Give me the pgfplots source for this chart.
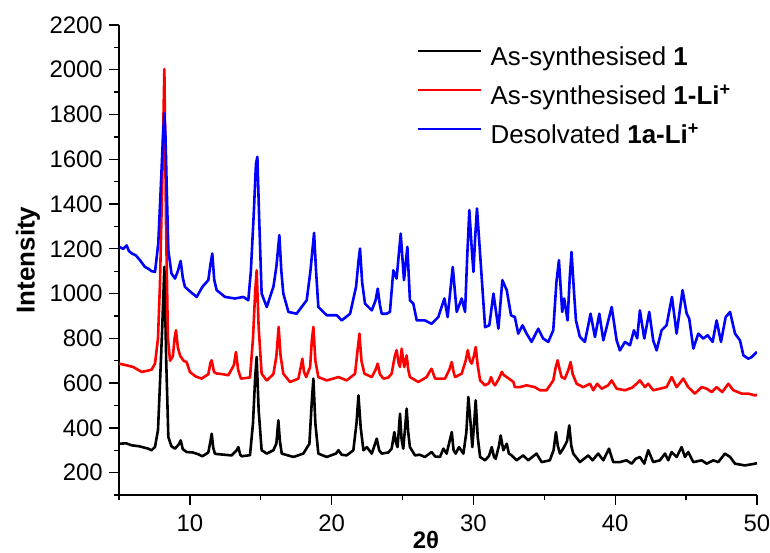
\documentclass[border=0pt]{standalone}
\usepackage{fontspec}
\setmainfont{Liberation Sans}
\usepackage{pgfplots}
\pgfplotsset{compat=1.18}

\definecolor{pureblue}{RGB}{0,0,255}
\definecolor{purered}{RGB}{255,0,0}

\begin{document}
\begin{tikzpicture}
\begin{axis}[
  scale only axis,
  width=638bp, height=470bp,
  xmin=5, xmax=50, ymin=100, ymax=2200,
  axis x line*=bottom, axis y line*=left,
  axis line style={line width=1.5bp},
  xtick={10,20,30,40,50},
  minor xtick={5,15,25,35,45},
  ytick={200,400,...,2200},
  minor ytick={100,300,...,2100},
  tick align=outside,
  major tick length=10bp, minor tick length=5bp,
  every tick/.style={black, line width=1.3bp},
  scaled ticks=false,
  /pgf/number format/assume math mode=true,
  /pgf/number format/set thousands separator={},
  tick label style={font=\fontsize{24}{24}\selectfont},
  xticklabel style={inner sep=0pt, anchor=north, yshift=-10bp},
  yticklabel style={inner sep=0pt, anchor=east, xshift=-6bp},
  xlabel={\textbf{2θ}},
  ylabel={\textbf{Intensity}},
  every axis x label/.style={at={(rel axis cs:0.481,0)}, anchor=center, yshift=-45bp, font=\fontsize{24}{24}\selectfont},
  every axis y label/.style={at={(rel axis cs:0,0.5)}, anchor=center, xshift=-91bp, rotate=90, font=\fontsize{26}{26}\selectfont},
  legend style={at={(rel axis cs:0.467,0.953)}, anchor=north west, draw=none, fill=none,
    inner sep=0pt, row sep=15bp, font=\fontsize{26}{26}\selectfont,
    nodes={inner sep=0pt, text height=18bp, text depth=6bp}},
  legend cell align=left,
  legend image code/.code={\draw[#1, line width=2.4bp] (0bp,8bp) -- (63bp,8bp); \path (71bp,0bp);},
  every axis plot/.append style={line width=2.6bp, line join=round},
]
\coordinate (o) at (rel axis cs:0,0);

\addplot[black] coordinates {
(5.0,329)(5.5,331)(5.89,322)(6.4,318)(7.07,307)(7.3,300)(7.54,315)(7.75,390)(7.89,598)(8.05,850)(8.2,1120)(8.33,700)(8.48,359)(8.7,318)(8.95,307)(9.2,325)(9.35,344)(9.5,305)(9.77,292)(10.2,290)(10.6,282)(10.88,273)(11.3,290)(11.45,340)(11.54,374)(11.65,310)(11.77,284)(12.4,280)(12.95,277)(13.3,300)(13.42,314)(13.55,280)(13.65,273)(14.24,278)(14.45,420)(14.6,620)(14.71,717)(14.85,480)(15.06,300)(15.42,285)(15.89,300)(16.1,330)(16.24,434)(16.35,340)(16.48,285)(17.3,270)(18.0,285)(18.43,329)(18.6,520)(18.71,620)(18.85,420)(19.06,285)(19.65,270)(20.3,285)(20.48,300)(20.7,280)(21.06,277)(21.53,300)(21.75,420)(21.89,545)(22.05,400)(22.24,300)(22.48,314)(22.83,285)(23.18,352)(23.35,300)(23.53,285)(24.0,290)(24.23,307)(24.42,381)(24.55,330)(24.65,314)(24.82,463)(24.93,350)(25.05,307)(25.18,400)(25.29,486)(25.4,380)(25.52,314)(25.88,277)(26.2,280)(26.58,270)(27.05,292)(27.3,272)(27.64,270)(27.88,307)(28.11,285)(28.47,381)(28.6,300)(28.75,285)(28.98,314)(29.29,285)(29.5,380)(29.64,538)(29.8,420)(29.92,314)(30.05,420)(30.16,523)(30.3,360)(30.47,270)(30.82,255)(31.1,275)(31.29,314)(31.45,270)(31.57,262)(31.8,320)(31.92,366)(32.11,300)(32.35,329)(32.5,285)(32.7,277)(33.04,255)(33.51,277)(33.86,255)(34.45,285)(34.81,247)(35.39,255)(35.65,300)(35.82,381)(35.95,320)(36.1,285)(36.33,307)(36.6,340)(36.76,411)(36.9,320)(37.04,285)(37.51,247)(38.1,277)(38.4,255)(38.8,285)(39.16,255)(39.56,307)(39.86,247)(40.33,247)(40.8,255)(41.16,240)(41.45,262)(41.74,270)(42.05,240)(42.33,300)(42.68,247)(43.15,255)(43.51,285)(43.74,255)(43.98,292)(44.33,270)(44.68,314)(44.92,270)(45.15,292)(45.51,247)(46.1,255)(46.45,240)(46.92,255)(47.27,247)(47.74,285)(48.1,270)(48.45,240)(49.15,232)(49.5,236)(49.86,240)(50,242)
};
\addlegendentry{As-synthesised \textbf{1}}

\addplot[purered] coordinates {
(5.0,687)(5.5,680)(6.0,672)(6.6,650)(7.0,655)(7.3,660)(7.54,687)(7.75,800)(7.89,1045)(8.05,1500)(8.2,2003)(8.32,1300)(8.45,800)(8.6,700)(8.8,720)(8.92,800)(9.02,836)(9.15,760)(9.3,724)(9.55,700)(9.77,694)(10.0,650)(10.4,630)(10.83,620)(11.3,640)(11.45,690)(11.54,702)(11.7,650)(11.89,643)(12.3,640)(12.71,635)(13.1,680)(13.25,739)(13.4,660)(13.6,620)(14.24,625)(14.45,800)(14.6,1000)(14.71,1104)(14.85,850)(15.06,642)(15.42,612)(15.89,640)(16.1,720)(16.26,851)(16.4,720)(16.59,642)(17.06,605)(17.65,620)(17.85,680)(17.93,709)(18.05,650)(18.2,627)(18.48,672)(18.6,790)(18.71,851)(18.85,700)(19.06,627)(19.65,612)(20.1,620)(20.48,627)(21.06,612)(21.65,642)(21.85,760)(21.96,821)(22.1,700)(22.31,642)(22.83,627)(23.1,660)(23.25,687)(23.4,640)(23.65,620)(24.0,625)(24.23,642)(24.45,720)(24.58,747)(24.72,690)(24.82,672)(24.94,754)(25.05,700)(25.12,672)(25.29,724)(25.4,660)(25.52,627)(26.11,605)(26.7,627)(26.9,650)(27.05,664)(27.29,620)(27.99,620)(28.3,660)(28.47,694)(28.6,650)(28.7,627)(29.17,642)(29.45,700)(29.6,747)(29.75,700)(29.88,687)(30.03,720)(30.16,761)(30.3,680)(30.47,612)(30.82,590)(31.1,600)(31.24,627)(31.4,600)(31.52,590)(31.8,620)(32.0,650)(32.15,635)(32.35,627)(32.82,605)(32.92,582)(33.28,582)(33.75,590)(34.33,582)(34.69,568)(35.16,568)(35.63,612)(35.8,670)(35.94,702)(36.08,660)(36.22,627)(36.45,620)(36.7,660)(36.85,694)(37.0,640)(37.28,597)(37.75,582)(38.22,597)(38.45,568)(38.73,597)(39.04,575)(39.5,590)(39.75,612)(40.1,575)(40.69,568)(41.2,580)(41.51,597)(41.74,612)(42.1,582)(42.33,597)(42.68,568)(43.15,575)(43.62,582)(43.98,627)(44.33,582)(44.8,620)(45.15,582)(45.62,553)(46.1,582)(46.45,575)(46.8,560)(47.15,582)(47.55,560)(47.98,597)(48.33,568)(48.92,553)(49.39,553)(49.86,545)(50,548)
};
\addlegendentry{As-synthesised \textbf{1-Li\textsuperscript{+}}}

\addplot[pureblue] coordinates {
(5.0,1209)(5.3,1200)(5.54,1215)(5.7,1190)(5.89,1180)(6.2,1170)(6.48,1149)(6.83,1119)(7.1,1110)(7.3,1100)(7.54,1097)(7.77,1224)(7.96,1492)(8.1,1700)(8.2,1805)(8.28,1700)(8.36,1490)(8.48,1194)(8.7,1090)(8.95,1067)(9.15,1100)(9.35,1146)(9.5,1070)(9.65,1030)(10.0,1010)(10.48,985)(10.88,1030)(11.3,1060)(11.45,1130)(11.58,1179)(11.72,1060)(11.89,1015)(12.48,985)(13.18,978)(13.77,985)(14.12,970)(14.3,1100)(14.5,1350)(14.66,1580)(14.76,1611)(14.88,1350)(15.06,1000)(15.42,940)(15.89,1030)(16.1,1120)(16.31,1261)(16.45,1100)(16.59,1000)(16.95,918)(17.53,910)(18.24,970)(18.5,1100)(18.76,1271)(18.9,1100)(19.06,940)(19.65,903)(20.36,903)(20.71,880)(21.3,910)(21.72,1030)(21.9,1150)(22.0,1201)(22.15,1050)(22.35,955)(22.83,925)(23.1,970)(23.25,1022)(23.4,950)(23.53,910)(23.88,910)(24.11,918)(24.35,1104)(24.58,1067)(24.87,1268)(25.1,1060)(25.34,1209)(25.52,970)(25.76,955)(26.0,880)(26.58,880)(27.05,865)(27.52,895)(27.95,978)(28.18,895)(28.54,1119)(28.82,918)(29.17,978)(29.41,918)(29.55,1150)(29.71,1373)(29.88,1200)(30.0,1097)(30.12,1250)(30.25,1380)(30.5,1149)(30.82,850)(31.12,858)(31.41,1000)(31.76,843)(32.04,1060)(32.35,1015)(32.65,903)(32.92,895)(33.16,821)(33.46,858)(33.75,821)(34.1,784)(34.57,843)(34.92,799)(35.28,784)(35.63,836)(35.85,1050)(36.03,1149)(36.26,918)(36.4,978)(36.64,880)(36.8,1080)(36.92,1186)(37.1,1000)(37.23,880)(37.51,806)(37.86,784)(38.26,910)(38.57,806)(38.88,910)(39.16,791)(39.75,940)(40.1,791)(40.33,746)(40.69,784)(41.04,769)(41.32,836)(41.55,800)(41.74,925)(42.05,799)(42.4,918)(42.68,791)(42.92,746)(43.27,836)(43.62,858)(44.0,985)(44.33,821)(44.75,1015)(45.04,910)(45.22,888)(45.51,754)(45.86,821)(46.21,799)(46.52,814)(46.87,784)(47.15,880)(47.46,784)(47.79,895)(48.1,918)(48.45,821)(48.8,791)(49.04,724)(49.39,709)(49.62,716)(49.86,731)(50.0,740)
};
\addlegendentry{Desolvated \textbf{1a-Li\textsuperscript{+}}}
\end{axis}
\pgfresetboundingbox
\path (o) ++(-119bp,-58bp) rectangle ++(770bp,553bp);
\end{tikzpicture}
\end{document}
